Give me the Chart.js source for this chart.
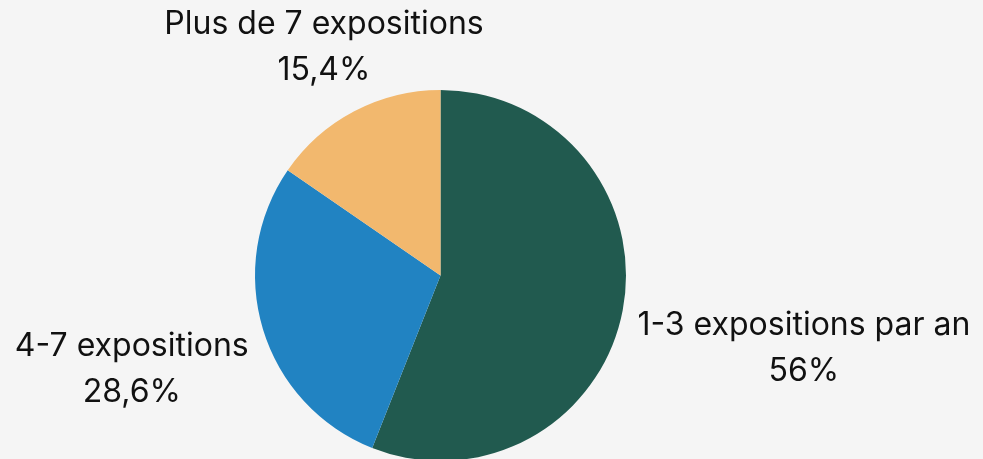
<!DOCTYPE html>
<html>
<head>
<meta charset="utf-8">
<script src="https://cdn.jsdelivr.net/npm/chart.js@4/dist/chart.umd.min.js"></script>
<style>
  html, body { margin: 0; padding: 0; background: #f5f5f5; overflow: hidden; }
  #wrap { width: 983px; height: 470px; }
</style>
</head>
<body>
<div id="wrap"><canvas id="pie" width="983" height="470"></canvas></div>
<script>
const categories = ['1-3 expositions par an', '4-7 expositions', 'Plus de 7 expositions'];
const shares = [56, 28.6, 15.4];
const colors = ['#215a4f', '#2183c2', '#f2b86e'];

const fmt = v => String(v).replace('.', ',') + '%';

// draws the two-line labels outside each slice
const outsideLabels = {
  id: 'outsideLabels',
  afterDraw(chart) {
    const ctx = chart.ctx;
    const arcs = chart.getDatasetMeta(0).data;
    ctx.save();
    ctx.font = '32px Inter';
    ctx.fillStyle = '#111';
    ctx.textAlign = 'center';
    ctx.textBaseline = 'alphabetic';
    const lh = 46;
    arcs.forEach((arc, i) => {
      const p = arc.getProps(['x', 'y', 'startAngle', 'endAngle', 'outerRadius'], true);
      const mid = (p.startAngle + p.endAngle) / 2;
      const dx = Math.cos(mid), dy = Math.sin(mid);
      const ax = p.x + dx * (p.outerRadius + 15);
      const ay = p.y + dy * (p.outerRadius + 15);
      const lines = [categories[i], fmt(shares[i])];
      const w = Math.max(...lines.map(t => ctx.measureText(t).width));
      let cx, base;
      if (Math.abs(dx) > Math.abs(dy)) {
        cx = dx > 0 ? ax + w / 2 : ax - w / 2;
        base = ay + 22;
      } else {
        cx = ax + dx * 50;
        base = dy < 0 ? ay - 18 - lh : ay + 22;
      }
      lines.forEach((t, k) => ctx.fillText(t, cx, base + k * lh));
    });
    ctx.restore();
  }
};

new Chart(document.getElementById('pie'), {
  type: 'pie',
  data: {
    labels: categories,
    datasets: [{
      data: shares,
      backgroundColor: colors,
      borderWidth: 0
    }]
  },
  options: {
    responsive: false,
    animation: false,
    layout: { padding: { top: 90, bottom: 9, left: 0, right: 102 } },
    plugins: {
      legend: { display: false },
      tooltip: { enabled: false }
    }
  },
  plugins: [outsideLabels]
});
</script>
</body>
</html>
